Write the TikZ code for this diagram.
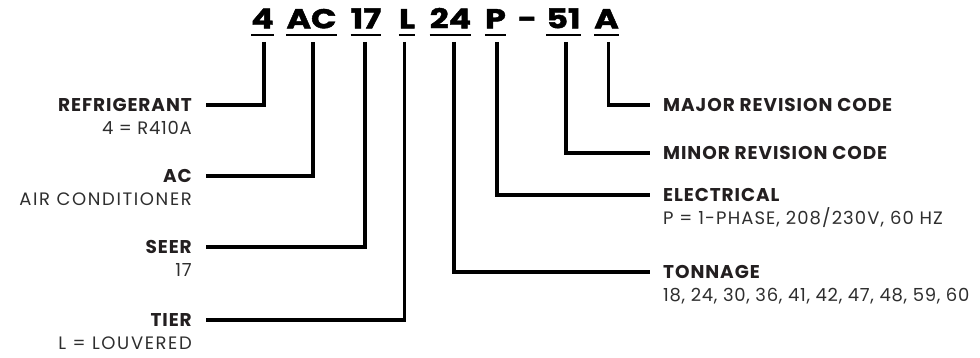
\documentclass[tikz,border=0pt]{standalone}
\usepackage{fontspec}
\setmainfont{Poppins}
\newfontfamily\labfont{Poppins}[LetterSpace=5]
\newfontfamily\subfont{Poppins}[LetterSpace=9]
\newfontfamily\submixfont{Poppins}[LetterSpace=6]
\newfontfamily\numfont{Poppins}[LetterSpace=4]
\newfontfamily\codefont{Poppins}[BoldFeatures={FakeBold=1.5}]
\definecolor{ink}{HTML}{231F20}
\definecolor{inksub}{HTML}{2E2E2E}
\tikzset{
  conn/.style={line width=3.4pt, draw=black},
  uline/.style={line width=2.2pt, draw=black},
  codetxt/.style={inner sep=0pt, anchor=base, text=black,
    font=\codefont\bfseries\fontsize{27.3}{28}\selectfont},
  lbl/.style={inner sep=0pt, text=ink,
    font=\labfont\bfseries\fontsize{18.5}{20}\selectfont},
  sublbl/.style={inner sep=0pt, text=inksub,
    font=\subfont\fontsize{18}{20}\selectfont},
  submix/.style={sublbl, font=\submixfont\fontsize{18}{20}\selectfont},
  subnum/.style={sublbl, font=\numfont\fontsize{18}{20}\selectfont}
}
\newcommand{\wide}[1]{\scalebox{1.22}[1]{#1}}
\begin{document}
\begin{tikzpicture}[x=1pt,y=-1pt]
\useasboundingbox (0,0) rectangle (980,358);
% code letters
\node[codetxt] (c4)  at (262.5,28.3) {\wide{4}};
\node[codetxt] (cAC) at (311.5,28.3) {\wide{AC}};
\node[codetxt] (c17) at (366,28.3)   {\wide{17}};
\node[codetxt] (cL)  at (407,28.3)   {\wide{L}};
\node[codetxt] (c24) at (450.5,28.3) {\wide{24}};
\node[codetxt] (cP)  at (495.5,28.3) {\wide{P}};
\node[codetxt] (cD)  at (527.5,28.3) {\wide{-}};
\node[codetxt] (c51) at (563.5,28.3) {\wide{51}};
\node[codetxt] (cA)  at (606.5,28.3) {\wide{A}};
\foreach \n in {c4,cAC,c17,cL,c24,cP,c51,cA}
  \draw[uline] (\n.west |- 0,35) -- (\n.east |- 0,35);
% line end coordinates
\coordinate (Lrefr) at (206,105);
\coordinate (Lac)   at (206,176);
\coordinate (Lseer) at (206,247);
\coordinate (Ltier) at (206,320);
\coordinate (Rmaj)  at (650,105);
\coordinate (Rmin)  at (650,153);
\coordinate (Rele)  at (650,195);
\coordinate (Rton)  at (650,272);
% left labels
\node[lbl, anchor=base east] (refr) at (192,111.2) {REFRIGERANT};
\node[subnum, anchor=base east] (refrs) at (192,134.8) {4 = R410A};
\node[lbl, anchor=base east] (ac) at (192,182.2) {AC};
\node[sublbl, anchor=base east] (acs) at (192,205.8) {AIR CONDITIONER};
\node[lbl, anchor=base east] (seer) at (192,253.2) {SEER};
\node[subnum, anchor=base east] (seers) at (192,276.8) {17};
\node[lbl, anchor=base east] (tier) at (192,326.2) {TIER};
\node[sublbl, anchor=base east] (tiers) at (192,349.8) {L = LOUVERED};
% right labels
\node[lbl, anchor=base west] (maj) at (663,111.2) {MAJOR REVISION CODE};
\node[lbl, anchor=base west] (min) at (663,159.2) {MINOR REVISION CODE};
\node[lbl, anchor=base west] (ele) at (663,201.2) {ELECTRICAL};
\node[submix, anchor=base west] (eles) at (663,224.8) {P = 1-PHASE, 208/230V, 60 HZ};
\node[lbl, anchor=base west] (ton) at (663,278.2) {TONNAGE};
\node[subnum, anchor=base west] (tons) at (663,301.8) {18, 24, 30, 36, 41, 42, 47, 48, 59, 60};
% connectors
\draw[conn] ([xshift=1.5pt]c4.south) ++(0,13.4) |- (Lrefr);
\draw[conn] ([xshift=1.5pt]cAC.south) ++(0,13.4) |- (Lac);
\draw[conn] ([xshift=-1pt]c17.south) ++(0,13.4) |- (Lseer);
\draw[conn] ([xshift=-2.7pt]cL.south) ++(0,13.4) |- (Ltier);
\draw[conn] ([xshift=3.5pt]c24.south) ++(0,13.4) |- (Rton);
\draw[conn] ([xshift=1.5pt]cP.south) ++(0,13.4) |- (Rele);
\draw[conn] ([xshift=2.5pt]c51.south) ++(0,13.4) |- (Rmin);
\draw[conn] ([xshift=2pt]cA.south) ++(0,13.4) |- (Rmaj);
\end{tikzpicture}
\end{document}
